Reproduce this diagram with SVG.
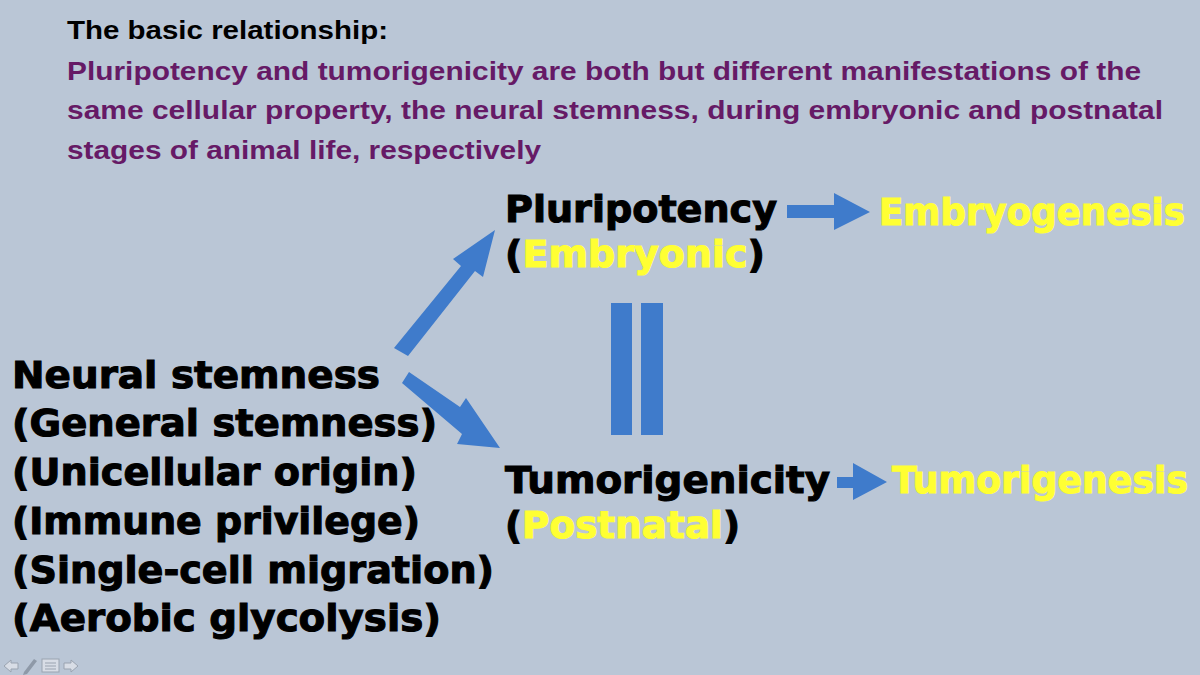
<svg xmlns="http://www.w3.org/2000/svg" width="1200" height="675" viewBox="0 0 1200 675">
<style>
.hdr{font-family:"Liberation Sans",Arial,sans-serif;font-weight:bold;font-size:26.5px;fill:#000}
.pur{fill:#661A66}
.big{font-family:"DejaVu Sans","Liberation Sans",sans-serif;font-weight:bold;font-size:38px;fill:#000;stroke:#000;stroke-width:1.1}
.yel{fill:#FFFF33;stroke:#FFFF33}
.blue{fill:#3F7BCB}
.nav{fill:#D8DDE6;stroke:#9AA3B0;stroke-width:1}
</style>
<rect width="1200" height="675" fill="#BAC6D6"/>
<g id="header">
<text class="hdr" x="67" y="39" textLength="321" lengthAdjust="spacingAndGlyphs">The basic relationship:</text>
<text class="hdr pur" x="67" y="80" textLength="1074" lengthAdjust="spacingAndGlyphs">Pluripotency and tumorigenicity are both but different manifestations of the</text>
<text class="hdr pur" x="67" y="119" textLength="1096" lengthAdjust="spacingAndGlyphs">same cellular property, the neural stemness, during embryonic and postnatal</text>
<text class="hdr pur" x="67" y="159" textLength="474" lengthAdjust="spacingAndGlyphs">stages of animal life, respectively</text>
</g>
<g id="neural-stemness">
<text class="big" x="12" y="388" textLength="368" lengthAdjust="spacingAndGlyphs">Neural stemness</text>
<text class="big" x="12" y="436" textLength="425" lengthAdjust="spacingAndGlyphs">(General stemness)</text>
<text class="big" x="12" y="485" textLength="405" lengthAdjust="spacingAndGlyphs">(Unicellular origin)</text>
<text class="big" x="12" y="534" textLength="408" lengthAdjust="spacingAndGlyphs">(Immune privilege)</text>
<text class="big" x="12" y="583" textLength="482" lengthAdjust="spacingAndGlyphs">(Single-cell migration)</text>
<text class="big" x="12" y="631" textLength="429" lengthAdjust="spacingAndGlyphs">(Aerobic glycolysis)</text>
</g>
<g id="pluripotency">
<text class="big" x="505" y="222" textLength="272" lengthAdjust="spacingAndGlyphs">Pluripotency</text>
<text class="big" x="505" y="267" textLength="260" lengthAdjust="spacingAndGlyphs">(<tspan class="yel">Embryonic</tspan>)</text>
</g>
<g id="embryogenesis">
<text class="big yel" x="879" y="225" textLength="306" lengthAdjust="spacingAndGlyphs">Embryogenesis</text>
</g>
<g id="tumorigenicity">
<text class="big" x="505" y="493" textLength="325" lengthAdjust="spacingAndGlyphs">Tumorigenicity</text>
<text class="big" x="505" y="538" textLength="235" lengthAdjust="spacingAndGlyphs">(<tspan class="yel">Postnatal</tspan>)</text>
</g>
<g id="tumorigenesis">
<text class="big yel" x="892" y="493" textLength="296" lengthAdjust="spacingAndGlyphs">Tumorigenesis</text>
</g>
<g id="connectors">
<polygon class="blue" points="787,205 834,205 834,193 870,212 834,230 834,218 787,218"/>
<polygon class="blue" points="837,477 853,477 853,463 887,482 853,500 853,488 837,488"/>
<polygon class="blue" points="394,348 461,266 453,259 495,230 483,277 475,271 408,356"/>
<polygon class="blue" points="409,372 460,407 466,398 500,448 457,444 462,434 402,383"/>
<rect class="blue" x="611" y="303" width="21" height="132"/>
<rect class="blue" x="641" y="303" width="22" height="132"/>
</g>
<g id="nav-icons">
<polygon class="nav" points="4,666 11,660 11,663 18,663 18,669 11,669 11,672"/>
<polygon fill="#8E99A8" points="24,672 34,659 37,661 27,674 23,675"/>
<rect class="nav" x="42" y="659" width="17" height="13"/>
<line x1="45" y1="663" x2="56" y2="663" stroke="#9AA3B0"/>
<line x1="45" y1="666" x2="56" y2="666" stroke="#9AA3B0"/>
<line x1="45" y1="669" x2="56" y2="669" stroke="#9AA3B0"/>
<polygon class="nav" points="78,666 71,660 71,663 64,663 64,669 71,669 71,672"/>
</g>
</svg>
